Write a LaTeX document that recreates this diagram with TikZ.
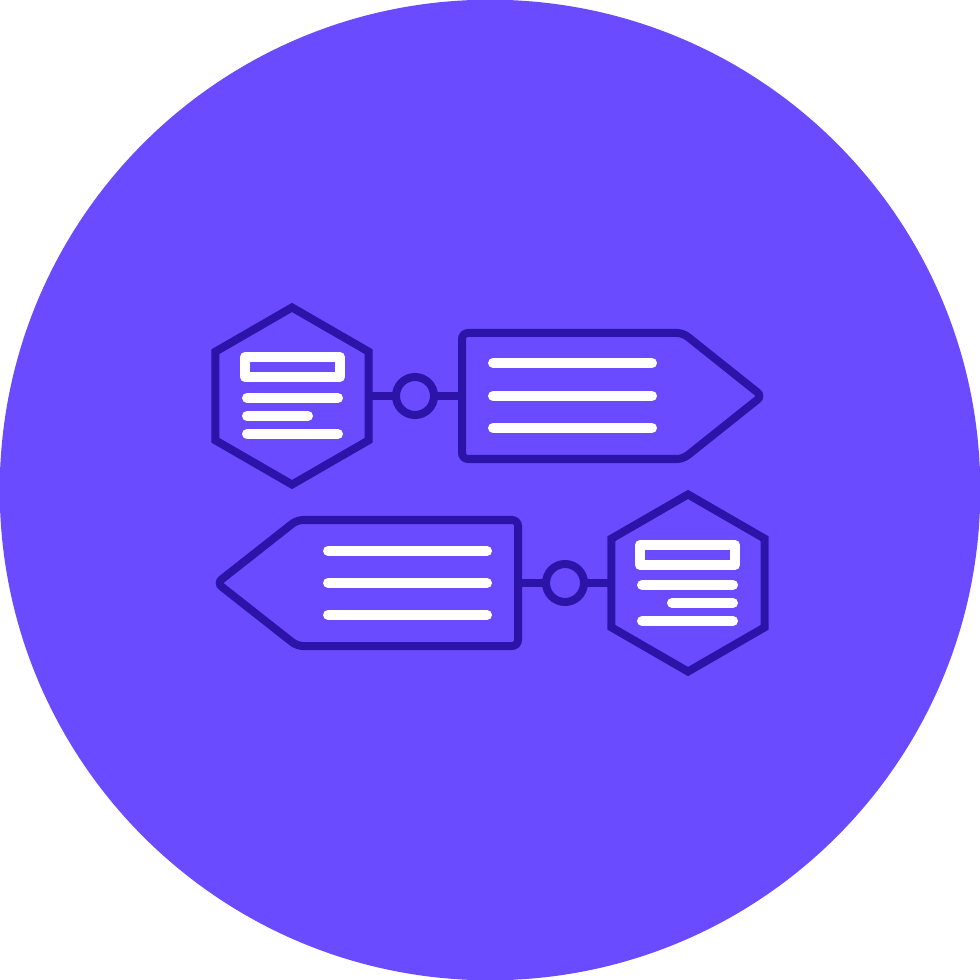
\documentclass[tikz,border=0pt]{standalone}
\usepackage{xcolor}
\usetikzlibrary{shapes.geometric}
\definecolor{fundo}{HTML}{6A4BFF}
\definecolor{escuro}{HTML}{2D14A8}

\begin{document}
\begin{tikzpicture}[x=0.01cm, y=-0.01cm,
  contorno/.style={draw=escuro, line width=0.08cm},
  hexagono/.style={contorno, regular polygon, regular polygon sides=6,
    shape border rotate=30, minimum size=1.77cm, inner sep=0pt, outer sep=0pt},
  elo/.style={contorno, circle, minimum size=0.38cm, inner sep=0pt, outer sep=0pt},
  caixa/.style={draw=white, line width=0.1cm, line join=round},
  linha/.style={white, line width=0.1cm, line cap=round}]

  % Fundo
  \useasboundingbox (0,0) rectangle (980,980);
  \fill[fundo] (490,490) circle[radius=4.9cm];

  % Grupo de cima
  \node[hexagono] (hexA) at (292,396) {};
  \node[elo] (eloA) at (415,396) {};
  \coordinate (setaA) at (462,396);

  \draw[contorno, rounded corners=0.06cm] (setaA) -- (462,333) -- (683,333)
    -- (762,396) -- (683,459) -- (462,459) -- cycle;
  \draw[contorno] (hexA.east) -- (eloA) -- (setaA);

  % Texto do hexagono de cima
  \draw[caixa] (245,357) rectangle (340,377);
  \draw[linha] (247,398) -- (338,398);
  \draw[linha] (247,416) -- (308,416);
  \draw[linha] (247,434) -- (338,434);

  % Texto da seta de cima
  \draw[linha] (493,363) -- (652,363);
  \draw[linha] (493,396) -- (652,396);
  \draw[linha] (493,428) -- (652,428);

  % Grupo de baixo
  \node[hexagono] (hexB) at (688,583) {};
  \node[elo] (eloB) at (565,583) {};
  \coordinate (setaB) at (518,583);

  \draw[contorno, rounded corners=0.06cm] (setaB) -- (518,520) -- (297,520)
    -- (217,583) -- (297,646) -- (518,646) -- cycle;
  \draw[contorno] (hexB.west) -- (eloB) -- (setaB);

  % Texto do hexagono de baixo
  \draw[caixa] (640,545) rectangle (735,565);
  \draw[linha] (642,585) -- (733,585);
  \draw[linha] (672,603) -- (733,603);
  \draw[linha] (642,621) -- (733,621);

  % Texto da seta de baixo
  \draw[linha] (328,551) -- (487,551);
  \draw[linha] (328,583) -- (487,583);
  \draw[linha] (328,615) -- (487,615);

\end{tikzpicture}
\end{document}
